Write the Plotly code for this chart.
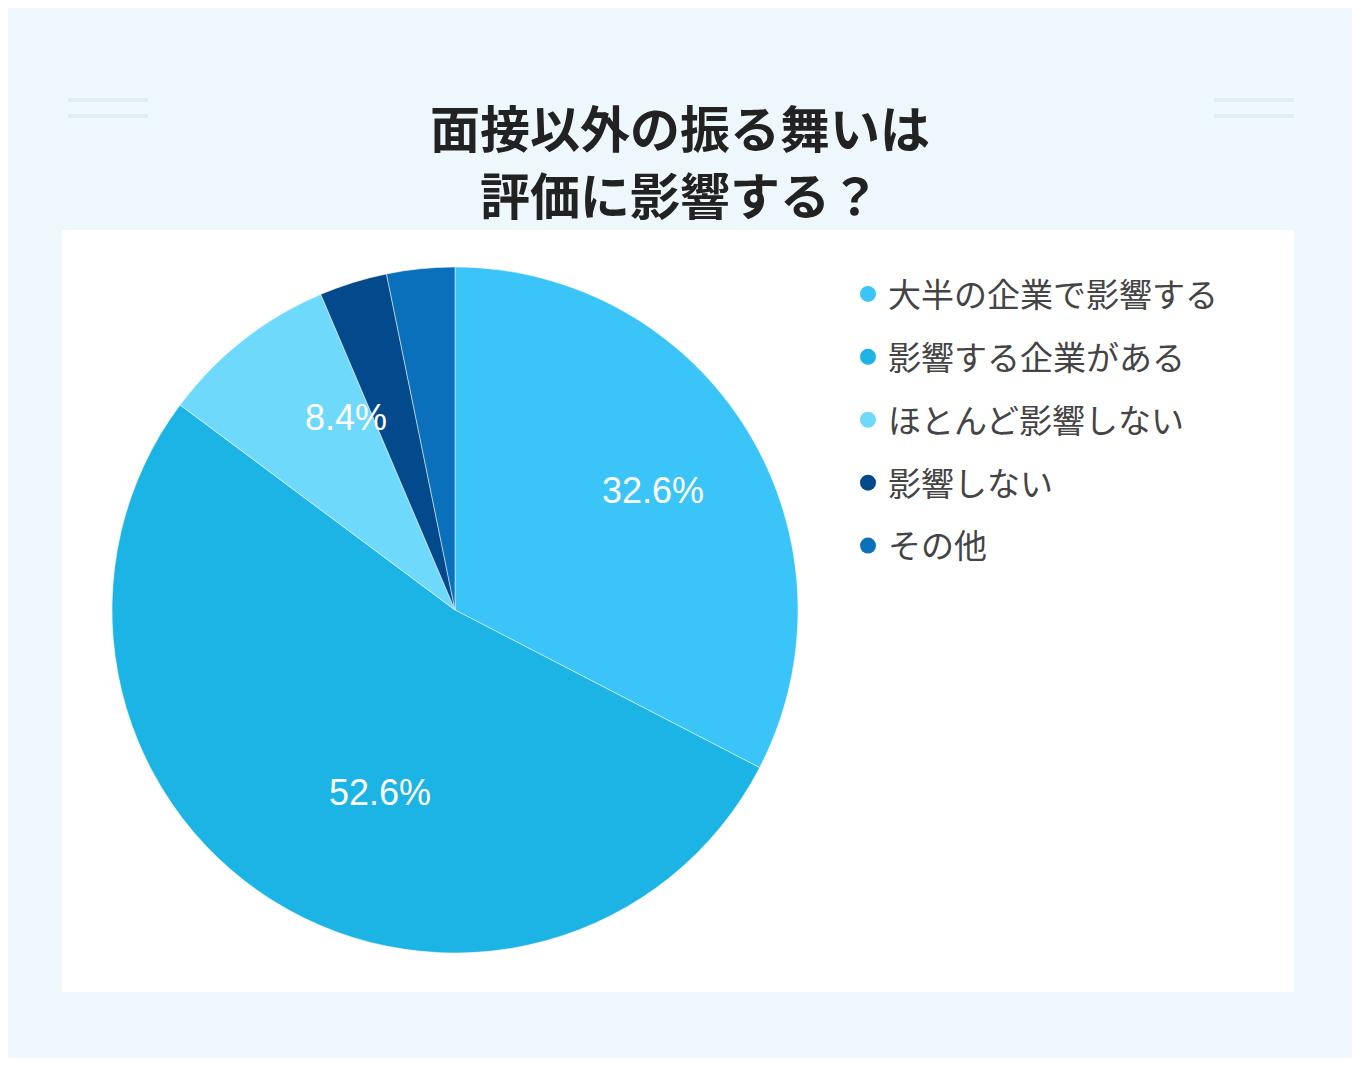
import plotly.graph_objects as go

labels = ["大半の企業で影響する", "影響する企業がある", "ほとんど影響しない", "影響しない", "その他"]
values = [32.6, 52.6, 8.4, 3.2, 3.2]
slice_text = ["32.6%", "52.6%", "8.4%"]
text_pos = [(653, 490), (327, 815), (303, 418)]  # label centers in reference pixels
colors = ["#3ac4f8", "#1bb4e4", "#6fd9fc", "#034a8c", "#0a70bb"]

W, H, OFF = 1344, 1050, 8  # page shows the figure offset by the body margin


def px(x):
    return (x - OFF) / W


def py(y):
    return 1 - (y - OFF) / H


fig = go.Figure()

fig.add_trace(go.Pie(
    labels=labels, values=values, textinfo="none",
    sort=False, direction="clockwise", rotation=0,
    marker=dict(colors=colors, line=dict(color="#ffffff", width=0.5)),
    domain=dict(x=[px(112), px(798)], y=[py(953), py(267)]),
    showlegend=False, hoverinfo="label+percent",
))

# legend with round markers
for i, (lab, col) in enumerate(zip(labels, colors)):
    fig.add_trace(go.Scatter(
        x=[None], y=[None], mode="markers", name=lab, legendgroup=str(i),
        marker=dict(symbol="circle", size=22, color=col),
    ))

annotations = [
    dict(text=t, x=px(x), y=py(y), xref="paper", yref="paper", showarrow=False,
         font=dict(color="white", size=36, family="Liberation Sans, Arial"))
    for t, (x, y) in zip(slice_text, text_pos)
]
annotations.append(dict(
    text="<b>面接以外の振る舞いは</b>", x=px(680), y=py(88), xref="paper", yref="paper",
    showarrow=False, font=dict(size=50, color="#222222", family="Noto Sans CJK JP")))
annotations.append(dict(
    text="<b>評価に影響する？</b>", x=px(680), y=py(155), xref="paper", yref="paper",
    showarrow=False, font=dict(size=50, color="#222222", family="Noto Sans CJK JP")))

line_col = "#dfeef2"
shapes = [dict(type="rect", xref="paper", yref="paper", layer="below",
               x0=px(62), x1=px(1294), y0=py(992), y1=py(230),
               fillcolor="white", line=dict(width=0))]
for x0, x1 in [(68, 148), (1214, 1294)]:
    for yy in (100, 116):
        shapes.append(dict(type="line", xref="paper", yref="paper", x0=px(x0), x1=px(x1),
                           y0=py(yy), y1=py(yy), line=dict(color=line_col, width=4)))

fig.update_layout(
    width=W, height=H,
    margin=dict(l=0, r=0, t=0, b=0),
    paper_bgcolor="#eef8fc", plot_bgcolor="rgba(0,0,0,0)",
    xaxis=dict(visible=False), yaxis=dict(visible=False),
    legend=dict(
        x=px(848), y=py(266), xanchor="left", yanchor="top",
        font=dict(size=33, color="#444444", family="Noto Sans CJK JP"),
        tracegroupgap=17, bgcolor="rgba(0,0,0,0)",
    ),
    annotations=annotations,
    shapes=shapes,
)

fig.write_html("out.html")
